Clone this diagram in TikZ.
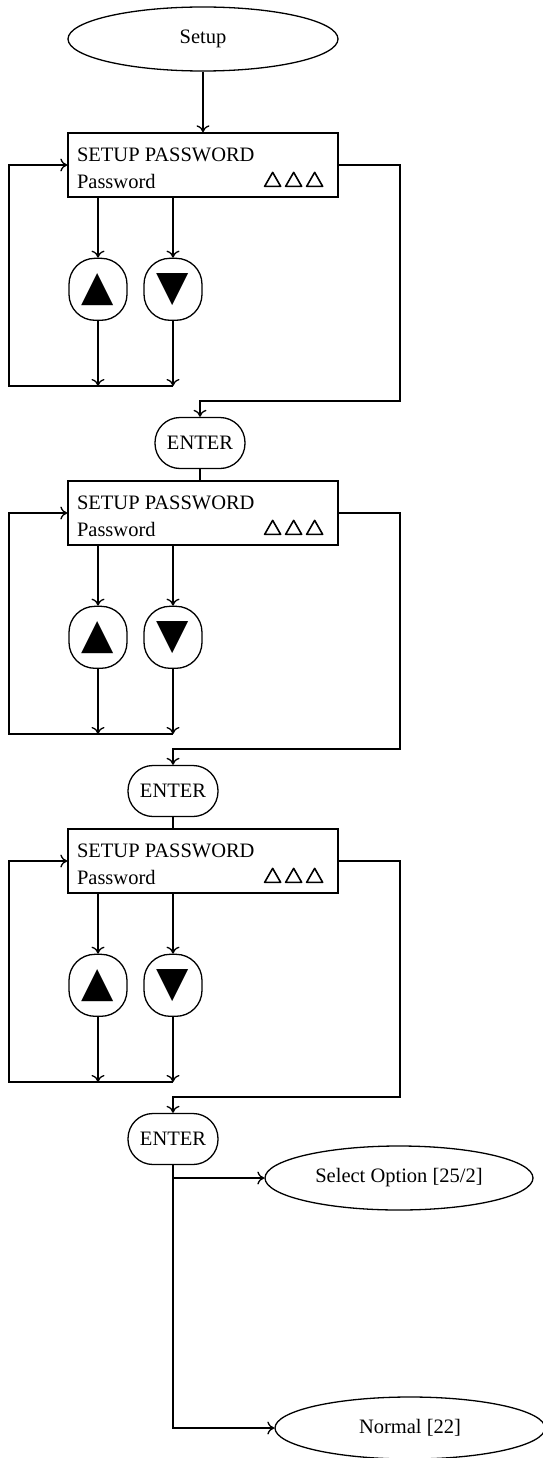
\documentclass[tikz,border=0pt]{standalone}
\usepackage{fontspec}
\setmainfont{Liberation Serif}
\newfontfamily\symfont{DejaVu Sans}
\usetikzlibrary{
    positioning,      % For placing the keys under each window
    arrows.meta,      % For the open arrow tips
    shapes.geometric  % For the ellipse states
}

\begin{document}
\begin{tikzpicture}[
    x=1pt, y=-1pt,
    line width=1.3pt,
    font=\fontsize{20.5}{24}\selectfont,
    % Style for the start and end states
    state_style/.style={
        draw, ellipse,
        inner sep=0pt,
        minimum width=270pt, minimum height=64pt
    },
    % Style for the display window
    screen_style/.style={
        draw, rectangle,
        inner sep=0pt,
        minimum width=270pt, minimum height=64pt
    },
    % Style for the up and down keys
    key_style/.style={
        draw, rounded corners=26pt,
        inner sep=0pt,
        minimum width=58pt, minimum height=62pt,
        font=\symfont\fontsize{42}{42}\selectfont
    },
    % Style for the ENTER key
    enter_style/.style={
        draw, rounded corners=25pt,
        inner sep=0pt,
        minimum width=90pt, minimum height=51pt
    },
    % Style for the text lines in a window
    line_style/.style={
        anchor=base west, inner sep=0pt
    },
    % Style for the hollow cursor triangles
    cursor_style/.style={
        line width=1.6pt, line join=round
    },
    % Style for arrowheads
    arrow_tip/.style={
        -{To[length=7pt, width=13pt]}
    }
]
    \useasboundingbox (0,0) rectangle (542,1458);

    % 1. The start state, the three windows and the ENTER keys.
    \node[state_style] (setup) at (203,39) {Setup};
    \node[screen_style] (screen1) at (203,165) {};
    \node[screen_style] (screen2) at (203,513) {};
    \node[screen_style] (screen3) at (203,861) {};
    \node[enter_style] (enter1) at (200,443) {ENTER};
    \node[enter_style] (enter2) at (173,791) {ENTER};
    \node[enter_style] (enter3) at (173,1139) {ENTER};

    % 2. The text inside the windows.
    \node[line_style] (title1) at ([shift={(9,29)}]screen1.north west) {SETUP PASSWORD};
    \node[line_style] (field1) at ([shift={(9,56)}]screen1.north west) {Password};
    \node[line_style] (title2) at ([shift={(9,29)}]screen2.north west) {SETUP PASSWORD};
    \node[line_style] (field2) at ([shift={(9,56)}]screen2.north west) {Password};
    \node[line_style] (title3) at ([shift={(9,29)}]screen3.north west) {SETUP PASSWORD};
    \node[line_style] (field3) at ([shift={(9,56)}]screen3.north west) {Password};

    % three hollow triangles at the right end of each second line
    \foreach \s in {1,2,3}
        \foreach \dx in {-74,-53,-32}
            \draw[cursor_style] ([shift={(\dx,54)}]screen\s.north east)
                -- ++(16,0) -- ++(-8,-14) -- cycle;

    % 3. The up and down keys under each window.
    \node[key_style, below right=60pt and 1pt of screen1.south west] (up1) {▲};
    \node[key_style, right=15.7pt of up1] (down1) {▼};
    \node[key_style, below right=60pt and 1pt of screen2.south west] (up2) {▲};
    \node[key_style, right=15.7pt of up2] (down2) {▼};
    \node[key_style, below right=60pt and 1pt of screen3.south west] (up3) {▲};
    \node[key_style, right=15.7pt of up3] (down3) {▼};

    % 4. The end states.
    \node[state_style, minimum width=268pt] (select) at (399,1178) {Select Option [25/2]};
    \node[state_style, minimum height=62pt] (normal) at (410,1428) {Normal [22]};

    % 5. Corners of the loops.
    \coordinate (loop1) at (9,386);
    \coordinate (exit1) at (400,401);
    \coordinate (loop2) at (9,734);
    \coordinate (exit2) at (400,749);
    \coordinate (loop3) at (9,1082);
    \coordinate (exit3) at (400,1097);

    % 6. The connectors.
    \draw[arrow_tip] (setup) -- (screen1);

    \draw[arrow_tip] (screen1.south -| up1) -- (up1);
    \draw[arrow_tip] (screen1.south -| down1) -- (down1);
    \draw[arrow_tip] (up1) -- (up1 |- loop1);
    \draw[arrow_tip] (down1) -- (down1 |- loop1);
    \draw[arrow_tip] (down1 |- loop1) -- (loop1) |- (screen1.west);
    \draw[arrow_tip] (screen1.east) -| (exit1) -| (enter1);
    \draw (enter1) -- (enter1 |- screen2.north);

    \draw[arrow_tip] (screen2.south -| up2) -- (up2);
    \draw[arrow_tip] (screen2.south -| down2) -- (down2);
    \draw[arrow_tip] (up2) -- (up2 |- loop2);
    \draw[arrow_tip] (down2) -- (down2 |- loop2);
    \draw[arrow_tip] (down2 |- loop2) -- (loop2) |- (screen2.west);
    \draw[arrow_tip] (screen2.east) -| (exit2) -| (enter2);
    \draw (enter2) -- (enter2 |- screen3.north);

    \draw[arrow_tip] (screen3.south -| up3) -- (up3);
    \draw[arrow_tip] (screen3.south -| down3) -- (down3);
    \draw[arrow_tip] (up3) -- (up3 |- loop3);
    \draw[arrow_tip] (down3) -- (down3 |- loop3);
    \draw[arrow_tip] (down3 |- loop3) -- (loop3) |- (screen3.west);
    \draw[arrow_tip] (screen3.east) -| (exit3) -| (enter3);

    \draw[arrow_tip] (enter3) |- (normal);
    \draw[arrow_tip] (enter3 |- select) -- (select);

\end{tikzpicture}
\end{document}
